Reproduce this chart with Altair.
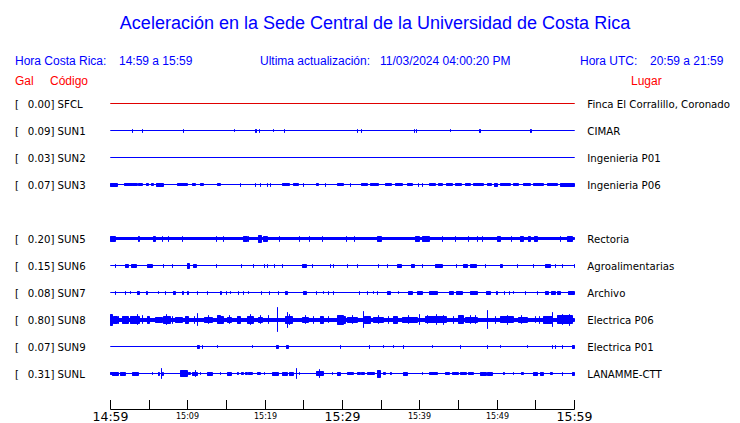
import altair as alt
import pandas as pd

# ---------------- data ----------------
CODES = ["SFCL", "SUN1", "SUN2", "SUN3", "SUN5", "SUN6", "SUN7", "SUN8", "SUN9", "SUNL"]
SLOTS = [0, 1, 2, 3, 5, 6, 7, 8, 9, 10]          # SUN4 slot is empty
PEAK_GAL = [0.00, 0.09, 0.03, 0.07, 0.20, 0.15, 0.08, 0.80, 0.07, 0.31]
PLACES = ["Finca El Corralillo, Coronado", "CIMAR", "Ingenieria P01", "Ingenieria P06",
          "Rectoria", "Agroalimentarias", "Archivo", "Electrica P06", "Electrica P01",
          "LANAMME-CTT"]
TRACE_COLORS = ["#e00000"] + ["#0000ff"] * 9
NOISE_FLOOR = [0, 0, 0, 0, 1, 0, 0, 1.5, 0, 0]

# bursts: [start minute, end minute, half amplitude]  (minutes after 14:59)
SUN1_BURSTS = [[2.9, 2.9, 1.5], [4.2, 4.2, 1.5], [9.4, 9.4, 1.5], [16.0, 16.0, 1], [18.7, 18.7, 1.5],
               [18.9, 18.9, 1.5], [19.3, 19.3, 1.5], [21.1, 21.1, 1], [22.5, 22.5, 1.5], [31.9, 31.9, 1.5],
               [32.5, 32.5, 1.5], [39.3, 39.3, 1.5], [39.6, 39.6, 1.5], [44.0, 44.0, 1], [47.7, 47.7, 1.5],
               [47.9, 47.9, 1.5], [54.3, 54.5, 1.5]]
SUN2_BURSTS = []
SUN3_BURSTS = [[0.0, 0.9, 1.5], [1.8, 2.8, 1], [2.9, 3.5, 1], [3.6, 4.1, 1], [4.7, 4.9, 1],
               [5.3, 5.5, 1], [6.0, 6.8, 1.5], [8.6, 9.9, 1], [10.6, 11.0, 1], [11.6, 12.0, 1],
               [13.8, 14.2, 1], [16.8, 16.8, 1.5], [18.7, 18.7, 1.5], [19.4, 19.4, 1.5], [20.3, 20.3, 1.5],
               [20.7, 20.7, 1.5], [22.3, 23.2, 1], [23.6, 24.3, 1], [24.9, 24.9, 1.5], [26.7, 26.9, 1],
               [27.8, 27.8, 1.5], [29.4, 30.1, 1], [31.0, 31.0, 1.5], [32.5, 33.2, 1], [33.6, 34.6, 1],
               [35.5, 36.4, 1], [36.8, 37.8, 1], [38.4, 39.0, 1], [39.8, 39.8, 1.5], [40.3, 40.3, 1.5],
               [41.3, 42.0, 1], [42.4, 42.9, 1], [43.5, 44.2, 1], [44.6, 45.4, 1], [45.9, 46.5, 1],
               [46.9, 48.2, 1], [48.7, 49.3, 1], [49.6, 50.0, 1.5], [50.4, 51.7, 1], [52.1, 52.7, 1],
               [53.4, 54.3, 1], [54.7, 56.0, 1], [56.5, 57.8, 1], [58.2, 60.0, 1.5]]
SUN5_BURSTS = [[0.0, 0.6, 2.5], [3.6, 3.8, 2.5], [5.5, 5.8, 2.5], [6.7, 6.7, 2.5], [7.5, 7.5, 2.5],
               [9.3, 9.3, 2.5], [13.7, 13.7, 2.5], [14.6, 14.6, 2.5], [17.2, 17.7, 2.5], [17.9, 17.9, 2.5],
               [19.2, 19.5, 3.5], [19.8, 20.3, 2.5], [21.8, 21.8, 2.5], [24.4, 24.4, 2.5], [25.7, 25.7, 2.5],
               [27.4, 27.4, 2.5], [30.5, 30.5, 2.5], [31.6, 31.6, 2.5], [34.5, 35.1, 2.5], [39.4, 40.0, 2.5],
               [40.4, 41.3, 2.5], [42.9, 42.9, 2.5], [44.6, 44.6, 2.5], [46.3, 46.3, 2.5], [47.4, 47.4, 2.5],
               [48.1, 48.1, 2.5], [50.1, 50.4, 2.5], [51.8, 51.8, 2.5], [53.0, 53.4, 2.5], [54.1, 54.3, 2.5],
               [54.8, 55.2, 2.5], [58.2, 58.2, 2.5], [59.1, 59.8, 2.5]]
SUN6_BURSTS = [[0.6, 0.6, 1.5], [2.0, 2.3, 1.5], [2.7, 3.3, 1.5], [4.8, 5.4, 1.5], [6.8, 6.8, 1.5],
               [8.0, 8.0, 1.5], [10.0, 10.2, 2.5], [10.7, 11.1, 1.5], [13.7, 13.7, 1.5], [16.9, 16.9, 1.5],
               [18.5, 18.5, 1.5], [19.9, 19.9, 1.5], [20.3, 20.3, 1.5], [21.2, 21.2, 1.5], [22.2, 22.2, 1.5],
               [24.8, 25.4, 1.5], [26.1, 26.1, 1.5], [28.4, 28.4, 1.5], [28.9, 28.9, 1.5], [30.6, 30.6, 1.5],
               [31.9, 31.9, 1.5], [34.7, 34.7, 1.5], [35.8, 35.8, 1.5], [37.1, 37.6, 1.5], [38.9, 39.3, 1.5],
               [40.3, 40.3, 1.5], [42.0, 42.9, 1.5], [44.7, 44.7, 1.5], [45.6, 46.1, 1.5], [46.5, 47.3, 1.5],
               [48.5, 48.5, 1.5], [50.4, 50.7, 1.5], [52.6, 52.6, 1.5], [54.7, 54.7, 1.5], [56.2, 56.9, 1.5],
               [57.5, 57.5, 1.5], [58.4, 58.4, 1.5], [60.0, 60.0, 1.5]]
SUN7_BURSTS = [[0.6, 0.6, 1.5], [2.0, 2.0, 1.5], [2.6, 2.6, 1], [3.5, 3.8, 1.5], [4.6, 4.8, 1.5],
               [6.2, 6.2, 1], [7.1, 7.1, 1.5], [8.1, 8.4, 1.5], [9.3, 9.4, 1.5], [9.9, 10.1, 1.5],
               [11.3, 11.3, 1.5], [12.5, 12.5, 1.5], [14.2, 14.4, 1.5], [15.0, 15.0, 1.5], [15.5, 15.5, 1],
               [16.6, 16.6, 1.5], [17.2, 17.2, 1.5], [17.9, 17.9, 1], [19.5, 19.5, 1.5], [20.5, 20.5, 1.5],
               [21.7, 21.7, 1.5], [22.6, 22.9, 1.5], [24.9, 25.3, 1.5], [26.7, 26.7, 1.5], [27.6, 27.6, 1],
               [28.2, 28.2, 1.5], [28.8, 28.8, 1.5], [32.2, 32.2, 1.5], [33.2, 33.2, 1.5], [34.0, 34.0, 1],
               [34.5, 34.5, 1.5], [35.8, 36.2, 1.5], [37.2, 37.2, 1], [38.5, 39.1, 1.5], [39.7, 40.4, 1.5],
               [41.3, 42.3, 1.5], [43.9, 44.3, 1.5], [44.7, 45.5, 1.5], [46.5, 47.5, 1.5], [48.6, 49.1, 1.5],
               [49.9, 50.1, 1.5], [51.0, 51.0, 1.5], [51.6, 51.6, 1.5], [52.1, 52.1, 1], [53.6, 53.6, 1.5],
               [55.2, 55.2, 1.5], [56.2, 56.7, 1.5], [57.0, 57.6, 1.5], [57.8, 58.2, 1.5], [59.2, 60.0, 1.5]]
SUN8_BURSTS = [[0.0, 0.2, 5.5], [0.4, 0.9, 3.5], [1.6, 2.3, 3.5], [2.6, 3.8, 3.5], [3.5, 3.5, 5],
               [4.8, 5.1, 3.5], [5.8, 6.7, 2.5], [6.8, 7.7, 3.5], [8.4, 9.3, 2.5], [9.7, 10.1, 3.5],
               [11.3, 11.3, 6], [12.2, 13.2, 2.5], [13.8, 14.2, 4], [14.2, 14.6, 3.5], [15.1, 15.7, 2.5],
               [16.4, 16.8, 3.5], [17.7, 18.5, 3.5], [18.1, 18.1, 5], [19.1, 19.6, 2.5], [20.4, 20.4, 4],
               [21.6, 21.6, 12], [22.6, 23.5, 3.5], [22.9, 22.9, 7.5], [24.8, 25.6, 2.5], [26.2, 26.2, 3.5],
               [27.1, 27.5, 3.5], [29.4, 30.1, 4.5], [30.1, 30.4, 3.5], [30.7, 31.9, 2.5], [32.7, 32.7, 8],
               [32.9, 33.6, 3.5], [34.0, 35.3, 2.5], [36.6, 37.1, 3.5], [37.7, 39.7, 2.5], [40.0, 40.0, 5],
               [40.7, 43.5, 3], [42.1, 42.1, 5], [45.0, 45.6, 4], [45.9, 47.5, 2.5], [48.7, 48.7, 9],
               [50.4, 52.1, 3], [52.7, 53.9, 2.5], [54.9, 54.9, 3], [56.0, 57.2, 3.5], [57.1, 57.1, 7],
               [57.8, 59.8, 4],
               [1.0, 1.0, 3.5], [4.2, 4.2, 4], [7.2, 7.2, 5], [8.0, 8.0, 3.5], [10.8, 10.8, 3.5],
               [12.7, 12.7, 4], [15.4, 15.4, 4], [19.4, 19.4, 4], [23.2, 23.2, 5], [25.2, 25.2, 4],
               [28.2, 28.2, 3], [31.3, 31.3, 4], [34.6, 34.6, 4], [36.0, 36.0, 3.5], [38.5, 38.5, 4],
               [41.0, 41.0, 4], [43.0, 43.0, 4.5], [44.4, 44.4, 3.5], [46.6, 46.6, 4], [47.2, 47.2, 4],
               [49.8, 49.8, 3.5], [51.3, 51.3, 4.5], [53.2, 53.2, 4], [55.5, 55.5, 3.5], [58.5, 58.5, 5],
               [59.3, 59.3, 5.5]]
SUN9_BURSTS = [[11.3, 11.5, 1.5], [11.9, 11.9, 1.5], [13.9, 13.9, 1], [18.3, 18.3, 1], [21.5, 21.7, 1.5],
               [22.8, 23.0, 1.5], [29.8, 29.8, 1.5], [33.5, 33.5, 1.5], [35.3, 35.3, 1], [36.6, 36.6, 1],
               [37.9, 37.9, 1.5], [41.7, 41.7, 1], [45.2, 45.2, 1.5], [48.7, 48.7, 1.5], [50.4, 50.4, 1],
               [53.9, 53.9, 1], [57.1, 57.1, 1.5], [57.5, 57.5, 1.5], [58.4, 58.4, 1.5], [59.7, 60.0, 1.5]]
SUNL_BURSTS = [[0.0, 0.2, 1], [0.3, 1.0, 1.5], [1.3, 1.9, 1.5], [2.8, 3.6, 1.5], [5.4, 5.4, 1],
               [6.2, 6.4, 1.5], [6.6, 6.6, 5], [6.7, 6.8, 1.5], [9.1, 9.9, 3], [10.1, 10.4, 1],
               [10.6, 11.2, 1.5], [11.0, 11.0, 3], [11.6, 11.6, 1], [12.5, 13.2, 1.5], [14.2, 14.2, 1],
               [15.1, 15.7, 1.5], [16.4, 16.5, 1], [16.9, 17.2, 1], [17.4, 17.7, 1], [17.9, 18.3, 1],
               [19.0, 19.4, 1], [19.9, 19.9, 1], [21.0, 21.7, 1.5], [22.3, 22.9, 1.5], [23.2, 23.6, 1.5],
               [24.0, 24.0, 5], [24.5, 24.5, 1], [26.7, 27.5, 2], [27.0, 27.0, 4], [28.7, 28.7, 1],
               [29.4, 29.7, 1.5], [30.7, 31.4, 1], [31.9, 32.3, 1], [32.5, 32.9, 1], [33.2, 34.2, 1],
               [34.5, 34.9, 3.5], [35.3, 35.5, 1], [36.2, 36.4, 1], [37.9, 38.4, 1.5], [40.3, 40.4, 1],
               [41.3, 42.3, 1], [43.3, 43.9, 1], [44.2, 45.0, 1], [45.2, 46.0, 1], [46.3, 46.9, 1],
               [47.8, 48.6, 1.5], [48.8, 49.4, 1.5], [50.8, 51.0, 1], [52.1, 52.1, 1], [53.2, 53.4, 1],
               [54.7, 55.2, 1.5], [55.6, 56.0, 1.5], [56.9, 57.2, 1], [58.5, 58.5, 1.5], [59.7, 60.0, 1.5]]
BURSTS = [[], SUN1_BURSTS, SUN2_BURSTS, SUN3_BURSTS, SUN5_BURSTS, SUN6_BURSTS,
          SUN7_BURSTS, SUN8_BURSTS, SUN9_BURSTS, SUNL_BURSTS]

TICK_MINUTES = [0, 5, 10, 15, 20, 25, 30, 35, 40, 45, 50, 55, 60]
MAJOR_TICKS = [0, 30, 60]
MAJOR_LABELS = ["14:59", "15:29", "15:59"]
MINOR_TICKS = [10, 20, 40, 50]
MINOR_LABELS = ["15:09", "15:19", "15:39", "15:49"]
AXIS_SPAN = [0, 60]

TITLE = "Aceleración en la Sede Central de la Universidad de Costa Rica"
BLUE = "#0000ff"
RED = "#ff0000"

# ---------------- tables ----------------
stations = pd.DataFrame({
    "code": CODES, "slot": SLOTS, "gal": PEAK_GAL, "place": PLACES,
    "color": TRACE_COLORS, "amp": NOISE_FLOOR, "t0": 0.0, "t1": 60.0,
})
stations["label"] = [f"{g:.2f}] {c}" for g, c in zip(PEAK_GAL, CODES)]

rows = []
for code, slot, color, bl in zip(CODES, SLOTS, TRACE_COLORS, BURSTS):
    for t0, t1, a in bl:
        rows.append(dict(code=code, slot=slot, color=color, t0=t0, t1=t1, amp=a))
bursts = pd.DataFrame(rows)

ticks = pd.DataFrame({"t": TICK_MINUTES})
major = pd.DataFrame({"t": MAJOR_TICKS, "lab": MAJOR_LABELS})
minor = pd.DataFrame({"t": MINOR_TICKS, "lab": MINOR_LABELS})
span = pd.DataFrame({"a": [AXIS_SPAN[0]], "b": [AXIS_SPAN[1]]})

XS = alt.Scale(domain=[0, 60], nice=False, zero=False, round=True)
YS = alt.Scale(domain=[0, 320], nice=False, zero=False, reverse=True, round=True)


def rows_y(ch):
    return (ch.transform_calculate(yc="14 + 27 * datum.slot")
              .transform_calculate(ylo="datum.yc - datum.amp")
              .transform_calculate(yhi="datum.yc + datum.amp"))


base_rect = rows_y(alt.Chart(stations)).mark_rect(strokeWidth=1).encode(
    x=alt.X("t0:Q", scale=XS, axis=None), x2="t1:Q",
    y=alt.Y("ylo:Q", scale=YS, axis=None), y2="yhi:Q",
    color=alt.Color("color:N", scale=None), stroke=alt.Stroke("color:N", scale=None))

burst_rect = rows_y(alt.Chart(bursts)).mark_rect(strokeWidth=1).encode(
    x=alt.X("t0:Q", scale=XS, axis=None), x2="t1:Q",
    y=alt.Y("ylo:Q", scale=YS, axis=None), y2="yhi:Q",
    color=alt.Color("color:N", scale=None), stroke=alt.Stroke("color:N", scale=None))

burst_rule = rows_y(alt.Chart(bursts)).mark_rule(strokeWidth=1).encode(
    x=alt.X("t0:Q", scale=XS, axis=None),
    y=alt.Y("ylo:Q", scale=YS, axis=None), y2="yhi:Q",
    color=alt.Color("color:N", scale=None))

LBL = dict(font="DejaVu Sans", fontSize=10.2, color="black", align="left", baseline="alphabetic", dy=4)
bracket = rows_y(alt.Chart(stations)).mark_text(**LBL).encode(
    x=alt.value(-95.5), y=alt.Y("yc:Q", scale=YS, axis=None), text=alt.value("["))
left_lab = rows_y(alt.Chart(stations)).mark_text(**LBL).encode(
    x=alt.value(-82.8), y=alt.Y("yc:Q", scale=YS, axis=None), text="label:N")
right_lab = rows_y(alt.Chart(stations)).mark_text(**LBL).encode(
    x=alt.value(476.8), y=alt.Y("yc:Q", scale=YS, axis=None), text="place:N")

one = pd.DataFrame({"k": [0]})


def head(txt, x, y, size=12, color=BLUE, align="left"):
    return alt.Chart(one).mark_text(font="Liberation Sans", fontSize=size, color=color,
                                    align=align, baseline="alphabetic", text=txt).encode(
        x=alt.value(x), y=alt.value(y))


headers = [
    head(TITLE, 264.5, -61, size=18, align="center"),
    head("Hora Costa Rica:", -95.5, -24.2),
    head("14:59 a 15:59", 8.5, -24.2),
    head("Ultima actualización:", 149.5, -24.2),
    head("11/03/2024 04:00:20 PM", 269.5, -24.2),
    head("Hora UTC:", 469.5, -24.2),
    head("20:59 a 21:59", 539.5, -24.2),
    head("Gal", -95.5, -4.2, color=RED),
    head("Código", -60.5, -4.2, color=RED),
    head("Lugar", 520.5, -4.2, color=RED),
]

axis_line = alt.Chart(span).mark_rule(color="black", strokeWidth=1).encode(
    x=alt.X("a:Q", scale=XS, axis=None), x2="b:Q", y=alt.value(320))
tick_marks = alt.Chart(ticks).mark_rule(color="black", strokeWidth=1).encode(
    x=alt.X("t:Q", scale=XS, axis=None), y=alt.value(310.5), y2=alt.value(320))
major_lab = alt.Chart(major).mark_text(font="DejaVu Sans", fontSize=12.5, color="black",
                                       align="center", baseline="alphabetic").encode(
    x=alt.X("t:Q", scale=XS, axis=None), y=alt.value(331.2), text="lab:N")
minor_lab = alt.Chart(minor).mark_text(font="DejaVu Sans", fontSize=8, color="black",
                                       align="center", baseline="alphabetic").encode(
    x=alt.X("t:Q", scale=XS, axis=None), y=alt.value(329.2), text="lab:N")

chart = alt.layer(
    base_rect, burst_rect, burst_rule, bracket, left_lab, right_lab,
    axis_line, tick_marks, major_lab, minor_lab, *headers
).properties(
    width=464, height=320,
    autosize=alt.AutoSizeParams(type="none"),
    padding={"left": 102.5, "top": 81.5, "right": 157.5, "bottom": 14},
    background="white",
).configure_view(stroke=None)

chart.save("out.html", embed_options={"renderer": "svg", "actions": False})
